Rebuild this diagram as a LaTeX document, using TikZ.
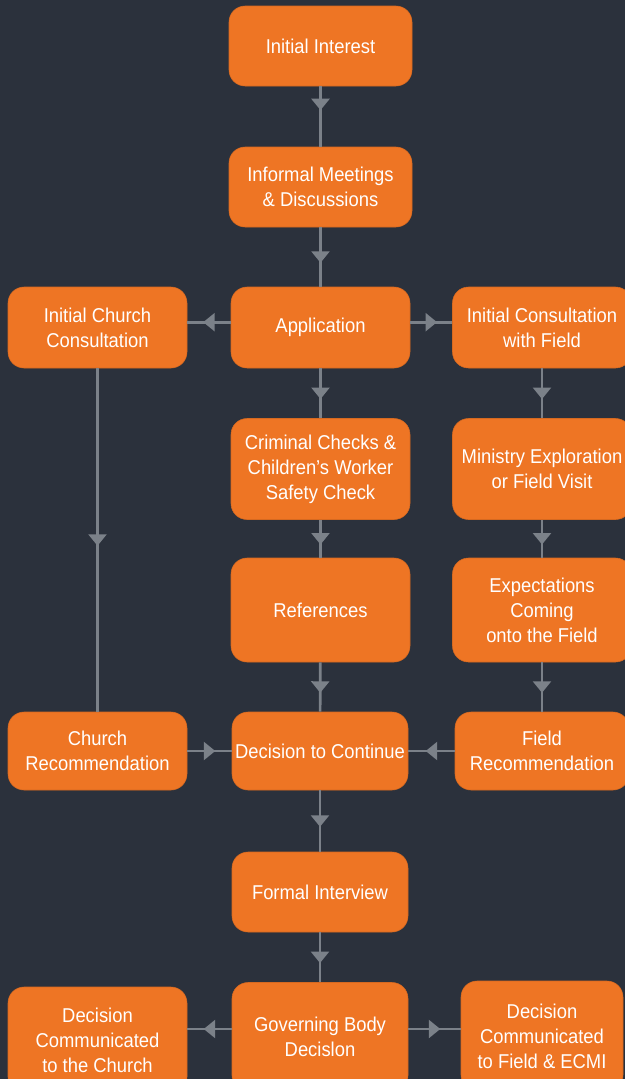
\documentclass[tikz,border=0pt]{standalone}
\usepackage{fontspec}
\setmainfont[FakeStretch=0.92]{Liberation Sans}
\usepackage{tikz}
\usetikzlibrary{decorations.markings}

\definecolor{bgdark}{HTML}{2B313C}
\definecolor{boxorange}{HTML}{EE7524}
\definecolor{linegray}{HTML}{7B8189}

\tikzset{
	box/.style={rounded corners=12pt, fill=boxorange, draw=boxorange!90!black, line width=0.4pt,
		text=white, align=center, inner sep=0pt, minimum width=134.25pt, minimum height=60pt,
		font=\fontsize{15}{18.75}\selectfont},
	flow/.style={draw=linegray, line width=2pt, postaction={decorate},
		decoration={markings, mark=at position #1 with {\fill[linegray] (4.3pt,0) -- (-4.3pt,7pt) -- (-4.3pt,-7pt) -- cycle;}}},
	flow/.default=0.5
}

\begin{document}
\begin{tikzpicture}[x=0.75pt,y=-0.75pt]
	\fill[bgdark] (0,0) rectangle (625,1079);
	\useasboundingbox (0,0) rectangle (625,1079);
	\clip (0,0) rectangle (625,1079);
	% middle column
	\node[box, minimum width=137.25pt] (interest) at (320.5,46) {Initial Interest};
	\node[box, minimum width=137.25pt] (informal) at (320.5,187) {Informal Meetings\\\& Discussions};
	\node[box, minimum height=60.75pt] (application) at (320.5,327.5) {Application};
	\node[box, minimum height=75.75pt] (criminal) at (320.5,469) {Criminal Checks \&\\Children’s Worker\\Safety Check};
	\node[box, minimum height=78pt] (references) at (320.5,610) {References};
	\node[box, minimum width=132pt, minimum height=58.5pt] (decision) at (320,751) {Decision to Continue};
	\node[box, minimum width=132pt] (formal) at (320,892) {Formal Interview};
	\node[box, minimum width=132pt, minimum height=81.75pt] (governing) at (320,1037) {Governing Body\\Decislon};
	% church column
	\node[box, minimum height=60.75pt] (churchcons) at (97.5,327.5) {Initial Church\\Consultation};
	\node[box, minimum height=58.5pt] (churchrec) at (97.5,751) {Church\\Recommendation};
	\node[box, minimum height=79.5pt] (commchurch) at (97.5,1040) {Decision\\Communicated\\to the Church};
	% field column
	\node[box, minimum height=60.75pt] (fieldcons) at (542,327.5) {Initial Consultation\\with Field};
	\node[box, minimum height=75.75pt] (ministry) at (542,469) {Ministry Exploration\\or Field Visit};
	\node[box, minimum height=78pt] (expectations) at (542,610) {Expectations\\Coming\\onto the Field};
	\node[box, minimum width=130.5pt, minimum height=58.5pt] (fieldrec) at (542,751) {Field\\Recommendation};
	\node[box, minimum width=121.5pt, minimum height=82.5pt] (commfield) at (542,1036) {Decision\\Communicated\\to Field \& ECMI};

	% connectors
	\draw[flow=0.3] (interest) -- (informal);
	\foreach \from/\to in {informal/application,application/criminal,criminal/references,references/decision,
		decision/formal,formal/governing,churchcons/churchrec,fieldcons/ministry,ministry/expectations,expectations/fieldrec}{
		\draw[flow] (\from) -- (\to);
	}
	\draw[flow] ([yshift=4pt]application.west) -- ([yshift=4pt]application.west -| churchcons.east);
	\draw[flow] ([yshift=4pt]application.east) -- ([yshift=4pt]application.east -| fieldcons.west);
	\draw[flow] (churchrec.east) -- (churchrec.east -| decision.west);
	\draw[flow] (fieldrec.west) -- (fieldrec.west -| decision.east);
	\draw[flow] ([yshift=6pt]governing.west) -- ([yshift=6pt]governing.west -| commchurch.east);
	\draw[flow] ([yshift=6pt]governing.east) -- ([yshift=6pt]governing.east -| commfield.west);
\end{tikzpicture}
\end{document}
